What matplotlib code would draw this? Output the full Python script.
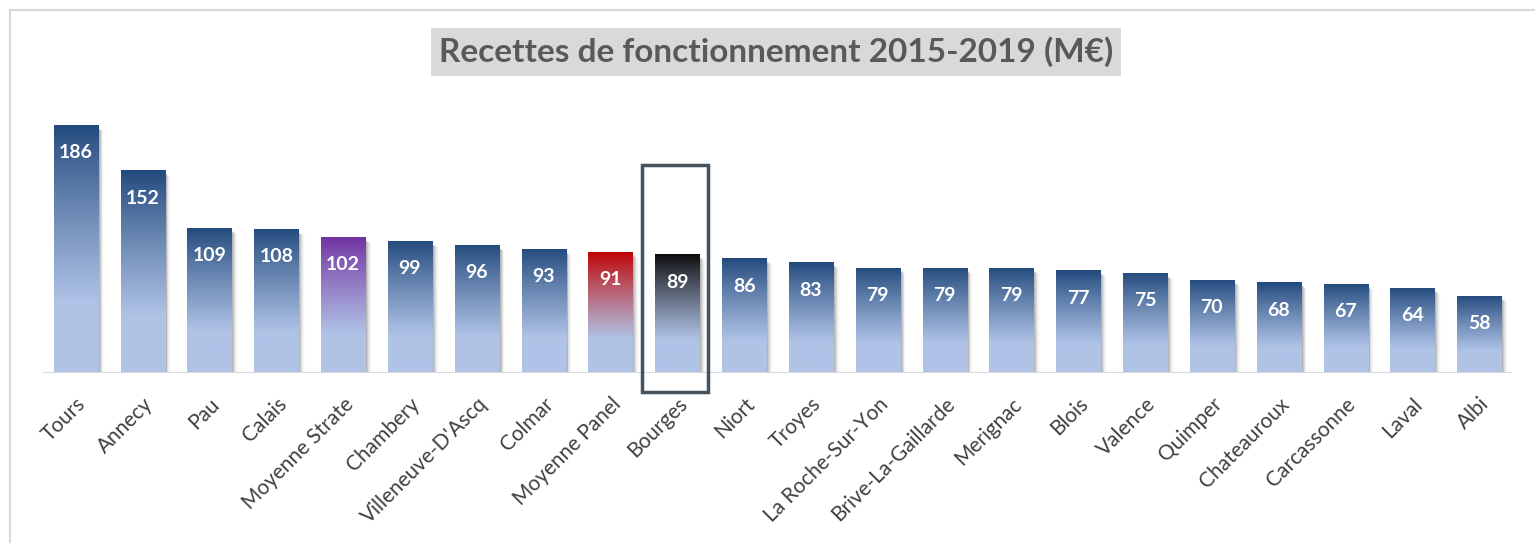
import numpy as np
import matplotlib.pyplot as plt
from matplotlib.colors import to_rgb
from matplotlib.patches import Rectangle
from matplotlib.lines import Line2D

villes = ['Tours', 'Annecy', 'Pau', 'Calais', 'Moyenne Strate', 'Chambery',
          "Villeneuve-D'Ascq", 'Colmar', 'Moyenne Panel', 'Bourges', 'Niort',
          'Troyes', 'La Roche-Sur-Yon', 'Brive-La-Gaillarde', 'Merignac', 'Blois',
          'Valence', 'Quimper', 'Chateauroux', 'Carcassonne', 'Laval', 'Albi']
recettes = [186, 152, 109, 108, 102, 99, 96, 93, 91, 89, 86, 83, 79, 79, 79, 77,
            75, 70, 68, 67, 64, 58]
couleurs_haut = {'Moyenne Strate': '#7030a0', 'Moyenne Panel': '#c00000',
                 'Bourges': '#0a0a0a'}
bleu_haut = '#21497c'
bleu_bas = '#b0c3e7'
ville_cadre = 'Bourges'

plt.rcParams['font.family'] = ['Lato', 'DejaVu Sans']

fig = plt.figure(figsize=(15.35, 5.43), dpi=100)
ax = fig.add_axes([43 / 1535, 170 / 543, 1469 / 1535, 266.7 / 543])

x = np.arange(len(villes))
w = 0.66
bars = ax.bar(x, recettes, width=w, color='none', edgecolor='none', zorder=3)

# gradient fill + soft shadow for each bar
n = 200
t = np.linspace(0, 1, n)[:, None]  # 0 = top
for b, ville in zip(bars, villes):
    x0, h = b.get_x(), b.get_height()
    c_top = np.array(to_rgb(couleurs_haut.get(ville, bleu_haut)))
    c_bot = np.array(to_rgb(bleu_bas))
    f = np.clip(t / 0.72, 0, 1) ** 0.9
    grad = c_top * (1 - f) + c_bot * f
    grad = np.concatenate([grad, np.ones((n, 1))], axis=1)[:, None, :]
    im = ax.imshow(grad, extent=[x0, x0 + w, 0, h], aspect='auto', zorder=3,
                   interpolation='bilinear')
    im.set_clip_path(b)
    for k, a in enumerate([0.3, 0.22, 0.16, 0.11, 0.07, 0.04, 0.02]):
        dx = 0.014 * (k + 1)
        ax.add_patch(Rectangle((x0 + dx, 0), w, h - 2.5 - k * 0.3,
                               facecolor='#6a6a6a', alpha=a, edgecolor='none',
                               zorder=2))
    ax.annotate(f'{h:.0f}', (b.get_x() + w / 2, h), xytext=(0, -20),
                textcoords='offset points', ha='center', va='center',
                color='white', fontsize=14, fontweight='bold', zorder=5)

ax.set_xlim(-0.49, len(villes) - 0.51)
ax.set_ylim(0, 200)
ax.axhline(0, color='#d9d9d9', lw=1.5, zorder=4)

# cadre autour de Bourges
i = villes.index(ville_cadre)
ax.add_patch(Rectangle((i - 0.52, -14), 0.98, 170, facecolor='none',
                       edgecolor='#46525c', lw=2.5, zorder=6, clip_on=False))

ax.set_xticks(x)
ax.set_xticklabels(villes, rotation=45, ha='right', rotation_mode='anchor',
                   fontsize=15, color='#404040')
ax.tick_params(axis='x', length=0, pad=15)
ax.set_yticks([])
for s in ax.spines.values():
    s.set_visible(False)

fig.text(776 / 1535, 1 - 52 / 543, 'Recettes de fonctionnement 2015-2019 (M€)',
         ha='center', va='center', fontsize=24, fontweight='bold', color='#595959',
         bbox=dict(facecolor='#d9d9d9', edgecolor='none', pad=6))

# cadre du graphique
fig.add_artist(Line2D([10 / 1535, 10 / 1535], [0, 1 - 10 / 543],
                      transform=fig.transFigure, color='#d9d9d9', lw=1.5))
fig.add_artist(Line2D([10 / 1535, 1], [1 - 10 / 543, 1 - 10 / 543],
                      transform=fig.transFigure, color='#d9d9d9', lw=1.5))

fig.savefig('out.png', dpi=100, facecolor='white')
